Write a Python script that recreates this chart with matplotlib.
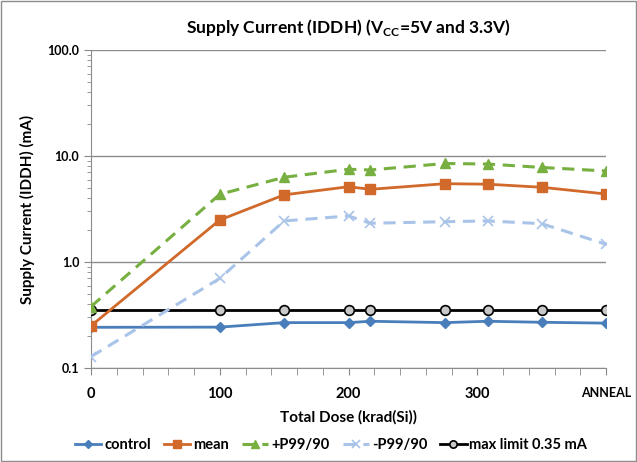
import matplotlib
matplotlib.use("Agg")
import matplotlib.pyplot as plt
from matplotlib.ticker import FixedLocator, MultipleLocator, LogLocator, NullFormatter

plt.rcParams["font.family"] = ["Lato", "DejaVu Sans"]
plt.rcParams["font.weight"] = "bold"
plt.rcParams["mathtext.fontset"] = "custom"
plt.rcParams["mathtext.rm"] = "Lato:bold"
plt.rcParams["mathtext.bf"] = "Lato:bold"

# ── Datos ────────────────────────────────────────────────────────────────────
dose = [0, 100, 150, 200, 217, 275, 308, 350, 400]
x_ticks = [0, 100, 200, 300, 400]
x_labels = ["0", "100", "200", "300", "ANNEAL"]

control = [0.242, 0.243, 0.268, 0.268, 0.276, 0.268, 0.276, 0.270, 0.265]
mean = [0.25, 2.49, 4.3, 5.13, 4.85, 5.48, 5.42, 5.07, 4.38]
p_plus = [0.38, 4.35, 6.3, 7.5, 7.38, 8.5, 8.4, 7.8, 7.22]
p_minus = [0.128, 0.70, 2.44, 2.72, 2.32, 2.40, 2.44, 2.30, 1.47]
limit = [0.35] * len(dose)

fig = plt.figure(figsize=(6.37, 4.62), dpi=100)
ax = fig.add_axes([91 / 637, 1 - 368 / 462, 515 / 637, 318 / 462])

ax.plot(dose, control, color="#4a7ebb", lw=2, marker="D", ms=5, label="control", zorder=4)
ax.plot(dose, mean, color="#d0692a", lw=2, marker="s", ms=7.5, label="mean", zorder=4)
ax.plot(dose, p_plus, color="#77b041", lw=2.2, ls=(0, (4, 2.5)), marker="^", ms=7,
        label="+P99/90", zorder=4)
ax.plot(dose, p_minus, color="#a9c4e8", lw=2.2, ls=(0, (4, 2.5)), marker="x", ms=7,
        mew=1.2, label="-P99/90", zorder=4)
ax.plot(dose, limit, color="black", lw=2, marker="o", ms=7, mfc="#c8c8c8", mec="black",
        mew=1.2, label="max limit 0.35 mA", zorder=3)

ax.set_yscale("log")
ax.set_ylim(0.1, 100)
ax.set_xlim(0, 400)
ax.yaxis.set_major_locator(FixedLocator([0.1, 1, 10, 100]))
ax.set_yticklabels(["0.1", "1.0", "10.0", "100.0"], fontsize=9, fontweight="bold")
ax.yaxis.set_minor_locator(LogLocator(subs=range(2, 10)))
ax.yaxis.set_minor_formatter(NullFormatter())
ax.xaxis.set_major_locator(FixedLocator(x_ticks))
ax.set_xticklabels(x_labels, fontsize=10.5, fontweight="bold")
ax.xaxis.set_minor_locator(MultipleLocator(20))
ax.tick_params(axis="x", which="both", direction="out", length=5, color="#888888", pad=9)
ax.get_xticklabels()[-1].set_fontsize(9)
ax.tick_params(axis="y", which="major", direction="out", length=5, color="#888888")
ax.tick_params(axis="y", which="minor", direction="out", length=3, color="#888888")

ax.grid(axis="y", which="major", color="#8c8c8c", lw=1)
for s in ["top", "right"]:
    ax.spines[s].set_visible(False)
for s in ["left", "bottom"]:
    ax.spines[s].set_color("#8c8c8c")

ax.set_title(r"Supply Current (IDDH) (V$_{\mathbf{CC}}$=5V and 3.3V)", fontsize=12.5,
             fontweight="bold", pad=12)
ax.set_xlabel("Total Dose (krad(Si))", fontsize=11, fontweight="bold", labelpad=6)
ax.set_ylabel("Supply Current (IDDH) (mA)", fontsize=11, fontweight="bold", labelpad=9)

fig.legend(loc="center", bbox_to_anchor=(0.52, 1 - 445 / 462), ncol=5, frameon=False,
           handlelength=1.8, handletextpad=0.2, columnspacing=0.9, markerscale=0.75,
           prop={"weight": "bold", "size": 10.5})

border = plt.Rectangle((0.002, 0.002), 0.996, 0.996, transform=fig.transFigure,
                       fill=False, edgecolor="#8c8c8c", lw=1)
fig.patches.append(border)

fig.savefig("out.png", dpi=100)
